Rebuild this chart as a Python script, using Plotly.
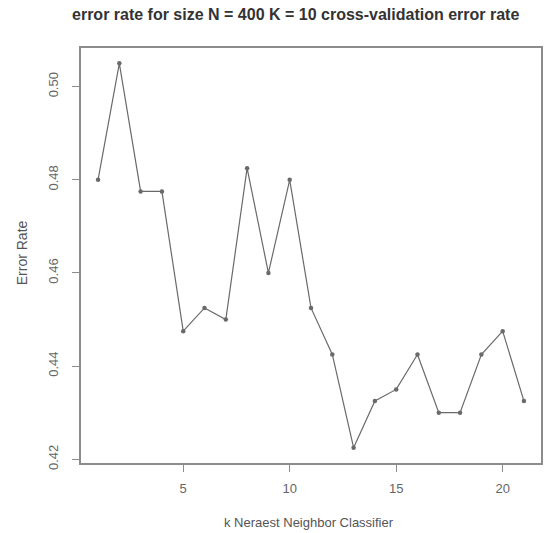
import plotly.graph_objects as go

k_values = list(range(1, 22))
error_rate = [0.48, 0.505, 0.4775, 0.4775, 0.4475, 0.4525, 0.45, 0.4825, 0.46, 0.48,
              0.4525, 0.4425, 0.4225, 0.4325, 0.435, 0.4425, 0.43, 0.43, 0.4425, 0.4475, 0.4325]
x_ticks = [5, 10, 15, 20]
y_ticks = [0.42, 0.44, 0.46, 0.48, 0.50]
y_tick_text = ["0.42", "0.44", "0.46", "0.48", "0.50"]

title = "error rate for size N = 400 K = 10 cross-validation error rate"
x_title = "k Neraest Neighbor Classifier"
y_title = "Error Rate"

line_col = "#6a6a6a"
axis_col = "#8c8c8c"

W, H = 547, 533
L, R, T, B = 81, 4, 48, 70
pw, ph = W - L - R, H - T - B

def px_x(p):
    return (p - L) / pw

def px_y(p):
    return (H - B - p) / ph

fig = go.Figure()
fig.add_trace(go.Scatter(
    x=k_values, y=error_rate, mode="lines+markers",
    line=dict(color=line_col, width=1.2),
    marker=dict(color=line_col, size=4.5, symbol="circle"),
    showlegend=False,
))

fig.update_layout(
    width=W, height=H,
    margin=dict(l=L, r=R, t=T, b=B),
    paper_bgcolor="white", plot_bgcolor="white",
    font=dict(family="Liberation Sans, Arial, sans-serif", color="#555555", size=12),
    annotations=[
        dict(text="<b>" + title + "</b>", xref="paper", yref="paper",
             x=px_x(296.5), y=px_y(15), xanchor="center", yanchor="middle",
             showarrow=False, font=dict(size=16, color="#333333")),
        dict(text=x_title, xref="paper", yref="paper",
             x=px_x(310), y=px_y(522), xanchor="center", yanchor="middle",
             showarrow=False, font=dict(size=13, color="#555555")),
        dict(text=y_title, xref="paper", yref="paper", textangle=-90,
             x=px_x(22), y=px_y(253), xanchor="center", yanchor="middle",
             showarrow=False, font=dict(size=14, color="#555555")),
    ],
)
fig.update_xaxes(
    range=[0.2, 21.8], tickvals=x_ticks, ticks="outside", ticklen=7, tickcolor=axis_col,
    showline=True, linecolor=axis_col, linewidth=1.5, mirror=True, showgrid=False, zeroline=False,
    tickfont=dict(size=13, color="#666666"), ticklabelstandoff=6,
)
fig.update_yaxes(
    range=[0.4192, 0.5083], tickvals=y_ticks, ticktext=y_tick_text, ticks="outside", ticklen=7,
    tickcolor=axis_col, tickangle=-90, ticklabelstandoff=9,
    showline=True, linecolor=axis_col, linewidth=1.5, mirror=True, showgrid=False, zeroline=False,
    tickfont=dict(size=13, color="#666666"),
)

fig.write_html("out.html")
